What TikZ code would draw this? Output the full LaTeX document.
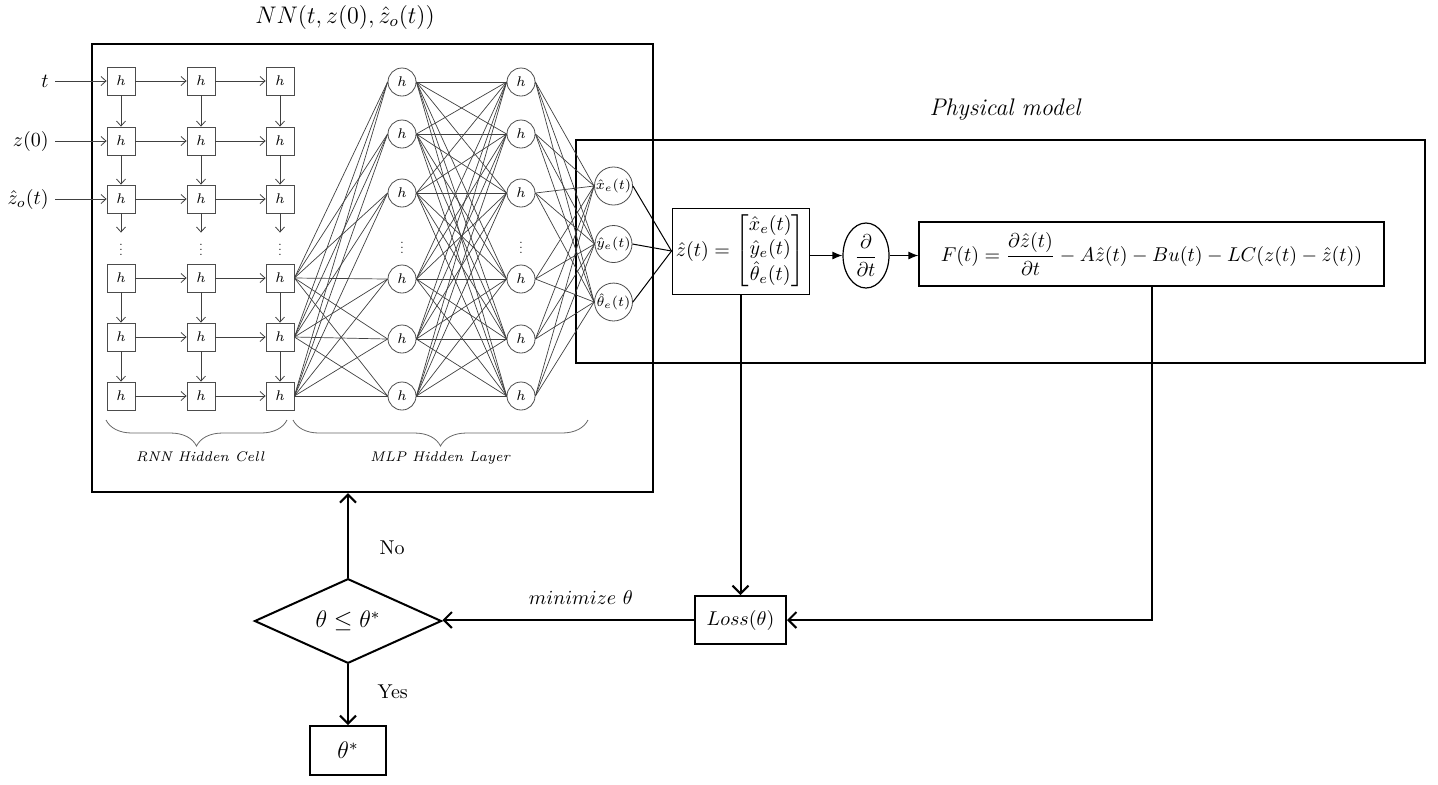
\documentclass[tikz,border=0pt]{standalone}
\usepackage{amsmath}
\usetikzlibrary{shapes.geometric,arrows.meta,decorations.pathreplacing}

\begin{document}
\begin{tikzpicture}[x=0.5pt,y=-0.5pt,
  hbox/.style={draw=black!70, minimum size=14pt, inner sep=0pt, font=\scriptsize},
  hcirc/.style={circle, draw=black!70, minimum size=14pt, inner sep=0pt, font=\scriptsize},
  outc/.style={circle, draw=black!70, minimum size=18.5pt, inner sep=0pt, font=\scriptsize},
  vdot/.style={inner sep=2pt},
  net/.style={black!75, line width=0.35pt},
  rarr/.style={black!75, line width=0.4pt, -{Straight Barb[length=2.5pt,width=4.5pt]}},
  flow/.style={line width=1pt, -{Straight Barb[length=4pt,width=8pt]}},
  solid/.style={line width=0.6pt, -{Latex[length=5pt,width=4pt]}},
  bigbox/.style={draw, line width=1.2pt, inner sep=0pt}]
\useasboundingbox (0,0) rectangle (1438,784);
% frames
\node[bigbox, minimum width=280.5pt, minimum height=224pt] (nnbox) at (372.5,268){};
\node[bigbox, minimum width=424.5pt, minimum height=111.5pt] (phys) at (1000.5,251.5){};
\node[font=\large] (nntitle) at (345,17){$NN(t,z(0),\hat{z}_o(t))$};
\node[font=\large\itshape] (phystitle) at (1005,110){Physical model};
% rnn
\node[anchor=east, inner sep=3pt] (in1) at (55,81){$t$};
\node[anchor=east, inner sep=3pt] (in2) at (55,141){$z(0)$};
\node[anchor=east, inner sep=3pt] (in3) at (55,199){$\hat{z}_o(t)$};
\foreach \r/\y in {1/81,2/141,3/199,4/278,5/337,6/396}
  \foreach \c/\x in {1/121,2/201,3/280}
    \node[hbox] (h\r\c) at (\x,\y){$h$};
\node[vdot] (d1) at (121,246){\scalebox{0.6}{$\vdots$}};
\node[vdot] (d2) at (201,246){\scalebox{0.6}{$\vdots$}};
\node[vdot] (d3) at (280,246){\scalebox{0.6}{$\vdots$}};
\draw[rarr](in1) -- (h11);
\draw[rarr](in2) -- (h21);
\draw[rarr](in3) -- (h31);
\foreach \r in {1,...,6}{
  \draw[rarr](h\r1) -- (h\r2);
  \draw[rarr](h\r2) -- (h\r3);
}
\foreach \c in {1,2,3}{
  \draw[rarr](h1\c) -- (h2\c);
  \draw[rarr](h2\c) -- (h3\c);
  \draw[rarr](h3\c) -- (d\c);
  \draw[rarr](h4\c) -- (h5\c);
  \draw[rarr](h5\c) -- (h6\c);
}
% mlp
\foreach \k/\y in {1/82,2/134,3/193,4/279,5/339,6/396}{
  \node[hcirc] (m\k) at (402,\y){$h$};
  \node[hcirc] (n\k) at (521,\y){$h$};
}
\node[vdot] (dm) at (402,244){\scalebox{0.6}{$\vdots$}};
\node[vdot] (dn) at (521,244){\scalebox{0.6}{$\vdots$}};
\node[outc] (o1) at (613.5,186){$\hat{x}_e(t)$};
\node[outc] (o2) at (613.5,244){$\hat{y}_e(t)$};
\node[outc] (o3) at (613.5,302){$\hat{\theta}_e(t)$};
\foreach \i in {4,5,6}
  \foreach \j in {1,...,6}
    \draw[net](h\i3.east) -- (m\j.west);
\foreach \i in {1,...,6}
  \foreach \j in {1,...,6}
    \draw[net](m\i.east) -- (n\j.west);
\foreach \i in {1,...,6}
  \foreach \j in {1,2,3}
    \draw[net](n\i.east) -- (o\j.west);
\draw[decorate, decoration={brace, mirror, amplitude=13pt}, black!60] (106,420) -- (287,420);
\draw[decorate, decoration={brace, mirror, amplitude=13pt}, black!60] (293,420) -- (588,420);
\node[font=\scriptsize\itshape] (rnnlab) at (200,457){RNN Hidden Cell};
\node[font=\scriptsize\itshape] (mlplab) at (440,458){MLP Hidden Layer};
% physical model
\node[draw, line width=0.5pt, minimum width=68.5pt, minimum height=43pt, inner sep=1pt] (zh) at (740.5,251)
  {$\hat{z}(t)=\begin{bmatrix}\hat{x}_e(t)\\ \hat{y}_e(t)\\ \hat{\theta}_e(t)\end{bmatrix}$};
\foreach \j in {1,2,3}
  \draw[line width=0.5pt](o\j.east) -- (zh.west);
\node[ellipse, draw, line width=0.6pt, minimum width=23pt, minimum height=32.5pt, inner sep=0pt] (dt) at (866,255.5){$\dfrac{\partial}{\partial t}$};
\node[draw, line width=0.6pt, minimum width=232.5pt, minimum height=32pt] (F) at (1151.5,254)
  {$F(t)=\dfrac{\partial\hat{z}(t)}{\partial t}-A\hat{z}(t)-Bu(t)-LC(z(t)-\hat{z}(t))$};
\draw[solid](zh.east |- dt.west) -- (dt.west);
\draw[solid](dt.east) -- (dt.east -| F.west);
% training loop
\node[draw, line width=1pt, minimum width=45.5pt, minimum height=24pt] (loss) at (740.5,620){$Loss(\theta)$};
\node[diamond, draw, line width=1pt, minimum width=93.5pt, minimum height=41pt, inner sep=0pt, font=\large] (dia) at (348,621){$\theta\leq\theta^{*}$};
\node[draw, line width=1pt, minimum width=38pt, minimum height=24.5pt, font=\large] (ts) at (348,750.5){$\theta^{*}$};
\draw[flow](zh) -- (loss);
\draw[flow](F.south) |- (loss.east);
\draw[flow](loss.west) -- (loss.west -| dia.east) node[pos=0.45, above=4pt] (minlab) {$minimize\ \theta$};
\draw[flow](dia.north) -- (dia.north |- nnbox.south) node[pos=0.35, right=12pt] (nolab) {No};
\draw[flow](dia.south) -- (ts.north) node[pos=0.45, right=11pt] (yeslab) {Yes};
\end{tikzpicture}
\end{document}
